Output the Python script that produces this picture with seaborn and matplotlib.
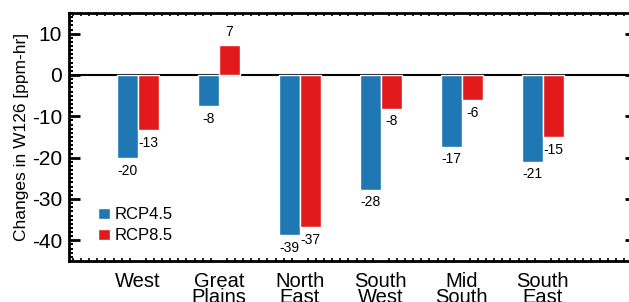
import matplotlib
matplotlib.use("Agg")
import matplotlib.pyplot as plt
from matplotlib.ticker import MultipleLocator
import seaborn as sns
import pandas as pd

# values
regions = ["West", "Great\nPlains", "North\nEast", "South\nWest", "Mid\nSouth", "South\nEast"]
rcp45 = [-20.1, -7.6, -38.7, -27.8, -17.4, -21.0]
rcp85 = [-13.4, 7.3, -36.8, -8.2, -6.1, -15.0]
scenarios = ["RCP4.5", "RCP8.5"]
colors = ["#1f78b4", "#e31a1c"]

df = pd.DataFrame({
    "region": regions * 2,
    "value": rcp45 + rcp85,
    "scenario": [scenarios[0]] * len(regions) + [scenarios[1]] * len(regions),
})

sns.set_style("ticks")
plt.rcParams["font.family"] = ["Liberation Sans", "DejaVu Sans"]
plt.rcParams["axes.unicode_minus"] = False
plt.rcParams["text.color"] = "black"
plt.rcParams["axes.labelcolor"] = "black"
plt.rcParams["xtick.color"] = "black"
plt.rcParams["ytick.color"] = "black"
plt.rcParams["axes.edgecolor"] = "black"

fig = plt.figure(figsize=(6.29, 3.02), dpi=100)
ax = fig.add_axes([69 / 629, 1 - 261 / 302, (636 - 69) / 629, (261 - 13) / 302])

sns.barplot(data=df, x="region", y="value", hue="scenario", palette=colors,
            width=0.53, gap=0.03, saturation=1, ax=ax)

for c in ax.containers:
    ax.bar_label(c, fmt="%.0f", padding=4, fontsize=10)

ax.axhline(0, color="black", lw=1.5, zorder=0.5)
ax.set_ylim(-45, 15)
ax.set_xlim(-0.85, 6.15)
ax.set_xlabel("")
ax.set_ylabel("Changes in W126 [ppm-hr]", fontsize=12.5, labelpad=2)

ax.yaxis.set_major_locator(MultipleLocator(10))
ax.yaxis.set_minor_locator(MultipleLocator(1))
ax.xaxis.set_minor_locator(MultipleLocator(0.1))

for s in ax.spines.values():
    s.set_visible(True)
    s.set_linewidth(2)
    s.set_color("black")

ax.tick_params(axis="y", which="major", direction="in", length=8, width=2,
               left=True, right=True, labelsize=15, pad=5)
ax.tick_params(axis="y", which="minor", direction="in", length=3, width=1.5,
               left=True, right=False)
ax.tick_params(axis="x", which="major", length=0, labelsize=14.5, pad=8)
ax.tick_params(axis="x", which="minor", direction="in", length=2, width=1.2,
               top=True, bottom=True)
for lab in ax.get_xticklabels():
    lab.set_linespacing(0.8)
    lab.set_verticalalignment("top")

ax.legend(loc="lower left", bbox_to_anchor=(0.04, 0.045), frameon=False,
          fontsize=12, handlelength=0.7, handleheight=0.7, handletextpad=0.3,
          labelspacing=0.35, borderaxespad=0)

fig.savefig("out.png", dpi=100)
